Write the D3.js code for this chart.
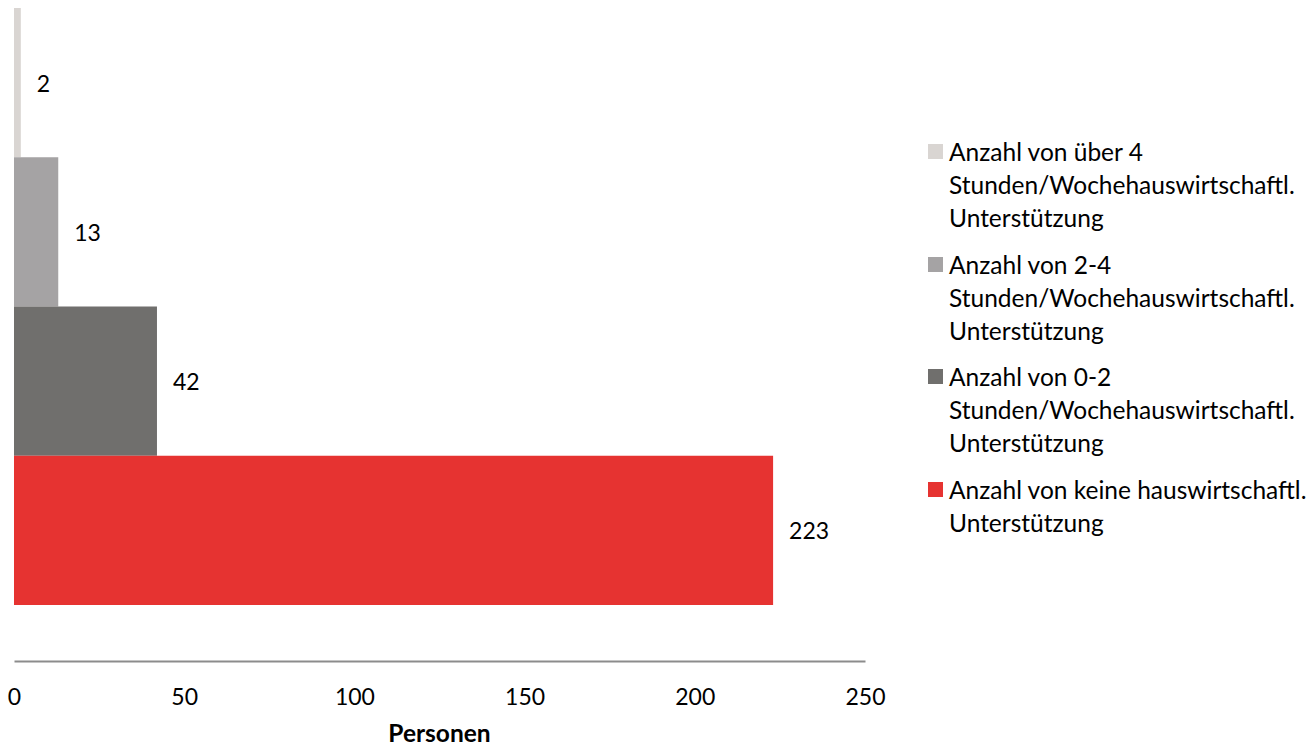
<!DOCTYPE html>
<html>
<head>
<meta charset="utf-8">
<script src="https://cdn.jsdelivr.net/npm/d3@7"></script>
<style>
  html, body { margin: 0; padding: 0; background: #fff; }
  svg { display: block; font-family: Lato, "Open Sans", sans-serif; }
</style>
</head>
<body>
<svg id="chart" width="1314" height="749"></svg>
<script>
const seriesNames = [
  "Anzahl von über 4 Stunden/Wochehauswirtschaftl. Unterstützung",
  "Anzahl von 2-4 Stunden/Wochehauswirtschaftl. Unterstützung",
  "Anzahl von 0-2 Stunden/Wochehauswirtschaftl. Unterstützung",
  "Anzahl von keine hauswirtschaftl. Unterstützung"
];
const legendLines = [
  ["Anzahl von über 4", "Stunden/Wochehauswirtschaftl.", "Unterstützung"],
  ["Anzahl von 2-4", "Stunden/Wochehauswirtschaftl.", "Unterstützung"],
  ["Anzahl von 0-2", "Stunden/Wochehauswirtschaftl.", "Unterstützung"],
  ["Anzahl von keine hauswirtschaftl.", "Unterstützung"]
];
const seriesValues = [2, 13, 42, 223];
const seriesColors = ["#d9d5d2", "#a5a3a4", "#706f6d", "#e63331"];
const xTicks = [0, 50, 100, 150, 200, 250];
const xTitle = "Personen";

const svg = d3.select("#chart");
const numSize = 23;
const textSize = 24.5;

const x = d3.scaleLinear().domain([0, 250]).range([14, 865]);
const y = d3.scaleBand().domain(seriesNames).range([8, 605]).paddingInner(0).paddingOuter(0);

svg.append("g").selectAll("rect")
  .data(seriesNames)
  .join("rect")
  .attr("x", x(0))
  .attr("y", d => y(d))
  .attr("width", (d, i) => x(seriesValues[i]) - x(0))
  .attr("height", y.bandwidth())
  .attr("fill", (d, i) => seriesColors[i]);

svg.append("g").selectAll("text")
  .data(seriesNames)
  .join("text")
  .attr("x", (d, i) => x(seriesValues[i]) + 16)
  .attr("y", d => y(d) + y.bandwidth() / 2 + 1)
  .attr("dy", "0.35em")
  .attr("font-size", numSize)
  .attr("fill", "#000")
  .text((d, i) => seriesValues[i]);

const axis = d3.axisBottom(x).tickValues(xTicks).tickSize(0).tickPadding(28);
const gx = svg.append("g").attr("transform", "translate(0,661)").call(axis);
gx.select(".domain").attr("stroke", "#8c8c8c").attr("stroke-width", 2);
gx.selectAll(".tick text").attr("font-size", numSize).attr("fill", "#000")
  .attr("font-family", "Lato, 'Open Sans', sans-serif");

svg.append("text")
  .attr("x", (x(0) + x(250)) / 2)
  .attr("y", 733)
  .attr("dy", "0.35em")
  .attr("text-anchor", "middle")
  .attr("font-size", textSize)
  .attr("font-weight", "bold")
  .text(xTitle);

const legend = svg.append("g");
const groupY = [152, 265, 377, 490];
legendLines.forEach((lines, i) => {
  const g = legend.append("g").attr("transform", `translate(0,${groupY[i]})`);
  g.append("rect").attr("x", 928).attr("y", -8).attr("width", 15).attr("height", 15)
    .attr("fill", seriesColors[i]);
  lines.forEach((t, j) => {
    g.append("text")
      .attr("x", 949)
      .attr("y", j * 33)
      .attr("dy", "0.35em")
      .attr("font-size", textSize)
      .attr("fill", "#000")
      .text(t);
  });
});
</script>
</body>
</html>
